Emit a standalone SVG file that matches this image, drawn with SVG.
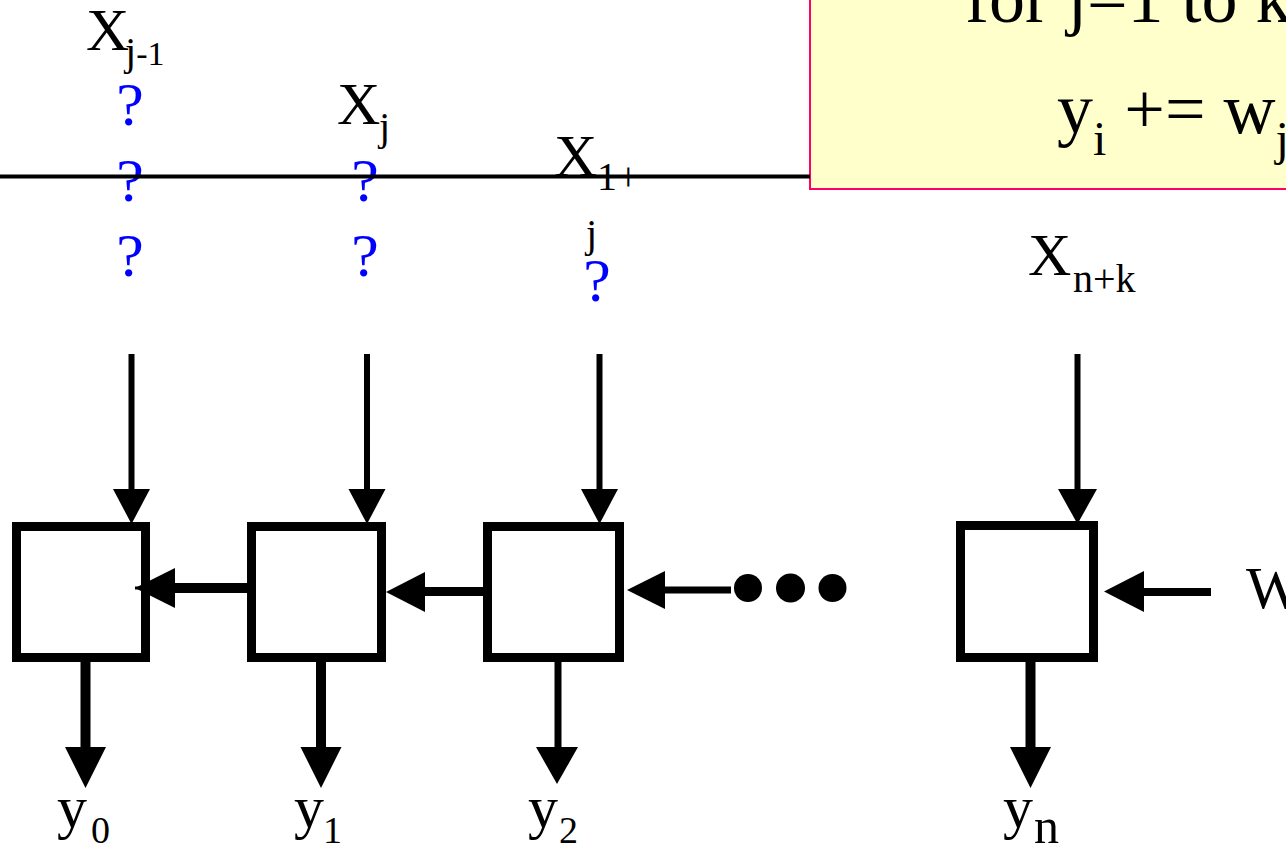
<svg xmlns="http://www.w3.org/2000/svg" width="1286" height="845" viewBox="0 0 1286 845">
<style>
.t{font-family:"Liberation Serif","Times New Roman",serif;fill:#000}
.q{font-family:"Liberation Serif","Times New Roman",serif;fill:#0000FF;font-size:62px;text-anchor:middle}
.box{fill:#fff;stroke:#000;stroke-width:9}
.ln{stroke:#000;fill:none}
.ah{fill:#000}
</style>
<rect width="1286" height="845" fill="#fff"/>
<g id="code-box">
<rect x="810" y="-10" width="500" height="199" fill="#FFFFCC" stroke="#FF0066" stroke-width="2"/>
<text class="t" x="965" y="22" font-size="72">for j=1 to k</text>
<text class="t" x="1057" y="133" font-size="72">y<tspan font-size="48" dy="22">i</tspan><tspan dy="-22"> += w</tspan><tspan font-size="48" dy="22">j</tspan></text>
</g>
<g id="labels-top">
<text class="q" x="130" y="125">?</text>
<text class="q" x="130" y="201">?</text>
<text class="q" x="130" y="276">?</text>
<text class="q" x="365" y="201">?</text>
<text class="q" x="365" y="276">?</text>
<text class="q" x="597" y="301">?</text>
<text class="t" x="86" y="50" font-size="60">X<tspan x="125" y="65" font-size="40">j</tspan><tspan font-size="34">-1</tspan></text>
<text class="t" x="337" y="124" font-size="60">X<tspan x="379" y="140" font-size="40">j</tspan></text>
<text class="t" x="554" y="176" font-size="60">X<tspan x="597" y="190" font-size="40">1+</tspan></text>
<text class="t" x="586" y="247" font-size="40">j</text>
<text class="t" x="1028" y="275" font-size="60">X<tspan x="1073" y="292" font-size="40">n+k</tspan></text>
</g>
<line class="ln" x1="0" y1="176.5" x2="810" y2="176.5" stroke-width="4"/>
<g id="connectors">
<line class="ln" x1="131.5" y1="354" x2="131.5" y2="500" stroke-width="6"/>
<polygon class="ah" points="113,489 150,489 131.5,524"/>
<line class="ln" x1="367" y1="354" x2="367" y2="500" stroke-width="6"/>
<polygon class="ah" points="348.5,489 385.5,489 367,524"/>
<line class="ln" x1="599.5" y1="354" x2="599.5" y2="500" stroke-width="6"/>
<polygon class="ah" points="581,489 618,489 599.5,524"/>
<line class="ln" x1="1077.5" y1="354" x2="1077.5" y2="500" stroke-width="6"/>
<polygon class="ah" points="1058,489 1097,489 1077.5,524"/>
<line class="ln" x1="85.5" y1="662" x2="85.5" y2="755" stroke-width="10"/>
<polygon class="ah" points="65,747 106,747 85.5,788"/>
<line class="ln" x1="321" y1="662" x2="321" y2="755" stroke-width="10"/>
<polygon class="ah" points="300.5,747 341.5,747 321,788"/>
<line class="ln" x1="558" y1="662" x2="558" y2="755" stroke-width="7"/>
<polygon class="ah" points="536,747 578,747 557,784"/>
<line class="ln" x1="1030.5" y1="662" x2="1030.5" y2="755" stroke-width="10"/>
<polygon class="ah" points="1010,747 1051,747 1030.5,788"/>
<line class="ln" x1="170" y1="588" x2="247" y2="588" stroke-width="10"/>
<line class="ln" x1="420" y1="591.5" x2="483" y2="591.5" stroke-width="9"/>
<line class="ln" x1="660" y1="590" x2="731" y2="590" stroke-width="7"/>
<line class="ln" x1="1140" y1="592" x2="1211" y2="592" stroke-width="8"/>
<circle class="ah" cx="748" cy="588" r="14"/>
<circle class="ah" cx="790.5" cy="588" r="14.5"/>
<circle class="ah" cx="832.5" cy="588" r="14"/>
</g>
<g id="pe0"><rect class="box" x="16.5" y="526.5" width="129" height="131"/></g>
<g id="pe1"><rect class="box" x="251.5" y="526.5" width="130" height="131"/></g>
<g id="pe2"><rect class="box" x="487.5" y="526.5" width="132" height="131"/></g>
<g id="pen"><rect class="box" x="960.5" y="525.5" width="133" height="132"/></g>
<g id="arrowheads-h">
<polygon class="ah" points="135,588 175,568 175,608"/>
<line class="ln" x1="135" y1="588" x2="150" y2="588" stroke-width="3"/>
<polygon class="ah" points="386,592 425,572 425,612"/>
<polygon class="ah" points="627,590 665,571 665,609"/>
<polygon class="ah" points="1104,591.5 1144,571 1144,612"/>
</g>
<g id="labels-bottom">
<text class="t" x="57" y="827" font-size="60">y<tspan x="91" y="843" font-size="38">0</tspan></text>
<text class="t" x="294" y="827" font-size="60">y<tspan x="323" y="843" font-size="38">1</tspan></text>
<text class="t" x="528" y="827" font-size="60">y<tspan x="559" y="843" font-size="38">2</tspan></text>
<text class="t" x="1003" y="827" font-size="60">y<tspan x="1034" y="843" font-size="50">n</tspan></text>
<text class="t" x="1246" y="608" font-size="60">W</text>
</g>
</svg>
